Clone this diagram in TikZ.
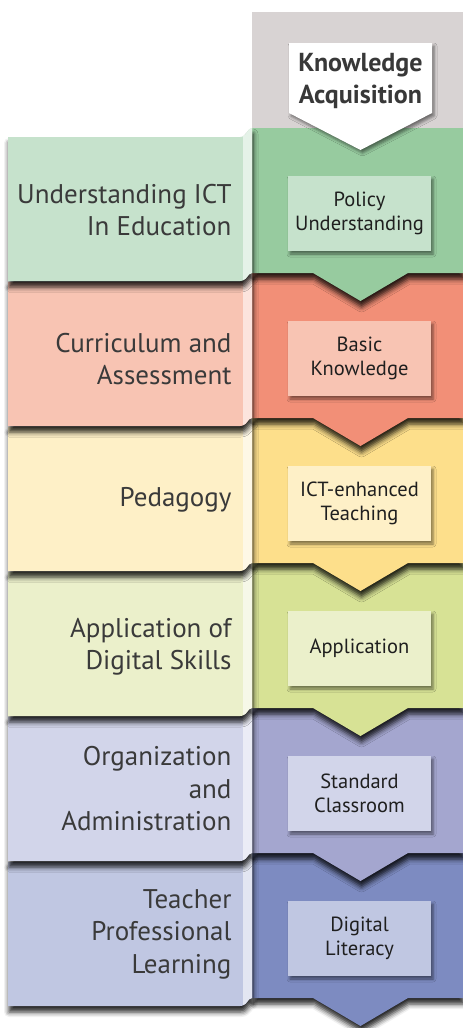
\documentclass[tikz,border=0pt]{standalone}
\usepackage{fontspec}
\setmainfont{PT Sans}
\usetikzlibrary{shadows.blur}
\definecolor{topgray}{HTML}{D8D3D3}
\definecolor{bandA}{HTML}{97CB9F}
\definecolor{tabA}{HTML}{C6E2CC}
\definecolor{bandB}{HTML}{F28F77}
\definecolor{tabB}{HTML}{F8C4B3}
\definecolor{bandC}{HTML}{FDDF8B}
\definecolor{tabC}{HTML}{FEF0C7}
\definecolor{bandD}{HTML}{D7E295}
\definecolor{tabD}{HTML}{EBF0CB}
\definecolor{bandE}{HTML}{A4A6CF}
\definecolor{tabE}{HTML}{D2D5EA}
\definecolor{bandF}{HTML}{7D8BC1}
\definecolor{tabF}{HTML}{C0C7E2}
\definecolor{tabtext}{HTML}{3A3A3A}
\tikzset{
  sheet/.style={blur shadow={shadow xshift=1pt,shadow yshift=-6pt,shadow blur radius=5pt,shadow opacity=85}},
  boxshadow/.style={blur shadow={shadow xshift=2pt,shadow yshift=-3pt,shadow blur radius=3pt,shadow opacity=50}},
  tablabel/.style={anchor=east,align=right,text=tabtext,font=\fontsize{27}{32.5}\selectfont},
  boxlabel/.style={align=center,text=black!88,font=\fontsize{20.5}{24}\selectfont}
}
\begin{document}
\begin{tikzpicture}[x=1pt,y=-1pt]
\useasboundingbox (0,0) rectangle (463,1028);
\fill[topgray] (252,12) rectangle (463,128); %top gray block

% bands, bottom first so each arrow sits on the band below
\fill[bandF,sheet] (252,853)--(463,853)--(463,998)--(408,998)--(360.5,1026)--(313,998)--(252,998)--cycle; %blue
\fill[bandE,sheet] (252,708)--(463,708)--(463,853)--(408,853)--(360.5,881)--(313,853)--(252,853)--cycle; %lavender
\fill[bandD,sheet] (252,563)--(463,563)--(463,708)--(408,708)--(360.5,736)--(313,708)--(252,708)--cycle; %light green
\fill[bandC,sheet] (252,418)--(463,418)--(463,563)--(408,563)--(360.5,591)--(313,563)--(252,563)--cycle; %yellow
\fill[bandB,sheet] (252,273)--(463,273)--(463,418)--(408,418)--(360.5,446)--(313,418)--(252,418)--cycle; %orange
\fill[bandA,sheet] (252,128)--(463,128)--(463,273)--(408,273)--(360.5,301)--(313,273)--(252,273)--cycle; %green

% white arrow on top
\fill[white,boxshadow] (289,43)--(432,43)--(432,113)--(360.5,150)--(289,113)--cycle;
\node[font=\bfseries\fontsize{26}{32}\selectfont,text=black!78,align=center] (ka) at (360.5,81) {Knowledge\\Acquisition};

% boxes inside the bands
\fill[tabA,boxshadow] (288,176) rectangle (431,251);
\node[boxlabel] (policy) at (359.5,213) {Policy\\Understanding};
\fill[tabB,boxshadow] (288,321) rectangle (431,396);
\node[boxlabel] (basic) at (359.5,358) {Basic\\Knowledge};
\fill[tabC,boxshadow] (288,466) rectangle (431,541);
\node[boxlabel] (teaching) at (359.5,503) {ICT-enhanced\\Teaching};
\fill[tabD,boxshadow] (288,611) rectangle (431,686);
\node[boxlabel] (appl) at (359.5,648) {Application};
\fill[tabE,boxshadow] (288,756) rectangle (431,831);
\node[boxlabel] (classroom) at (359.5,793) {Standard\\Classroom};
\fill[tabF,boxshadow] (288,901) rectangle (431,976);
\node[boxlabel] (literacy) at (359.5,938) {Digital\\Literacy};

% tabs on the left, bottom first
\fill[tabF,sheet] (8,862)--(240,862) .. controls (247,862) and (247,853) .. (252,853)--(252,998) .. controls (247,998) and (247,1006) .. (240,1006)--(8,1006)--cycle;
\fill[tabF!45!white] (243,861) .. controls (247,860) and (248,853) .. (252,853)--(252,998) .. controls (248,998) and (247,1005) .. (243,1005)--cycle;
\node[tablabel] (tl) at (235,934) {Teacher\\Professional\\Learning};

\fill[tabE,sheet] (8,717)--(240,717) .. controls (247,717) and (247,708) .. (252,708)--(252,853) .. controls (247,853) and (247,861) .. (240,861)--(8,861)--cycle;
\fill[tabE!45!white] (243,716) .. controls (247,715) and (248,708) .. (252,708)--(252,853) .. controls (248,853) and (247,860) .. (243,860)--cycle;
\node[tablabel] (oa) at (235,789) {Organization\\and\\Administration};

\fill[tabD,sheet] (8,572)--(240,572) .. controls (247,572) and (247,563) .. (252,563)--(252,708) .. controls (247,708) and (247,716) .. (240,716)--(8,716)--cycle;
\fill[tabD!45!white] (243,571) .. controls (247,570) and (248,563) .. (252,563)--(252,708) .. controls (248,708) and (247,715) .. (243,715)--cycle;
\node[tablabel] (ds) at (235,647) {Application of\\Digital Skills};

\fill[tabC,sheet] (8,427)--(240,427) .. controls (247,427) and (247,418) .. (252,418)--(252,563) .. controls (247,563) and (247,571) .. (240,571)--(8,571)--cycle;
\fill[tabC!45!white] (243,426) .. controls (247,425) and (248,418) .. (252,418)--(252,563) .. controls (248,563) and (247,570) .. (243,570)--cycle;
\node[tablabel] (ped) at (235,500) {Pedagogy};

\fill[tabB,sheet] (8,282)--(240,282) .. controls (247,282) and (247,273) .. (252,273)--(252,418) .. controls (247,418) and (247,426) .. (240,426)--(8,426)--cycle;
\fill[tabB!45!white] (243,281) .. controls (247,280) and (248,273) .. (252,273)--(252,418) .. controls (248,418) and (247,425) .. (243,425)--cycle;
\node[tablabel] (ca) at (235,359) {Curriculum and\\Assessment};

\fill[tabA,sheet] (8,137)--(240,137) .. controls (247,137) and (247,128) .. (252,128)--(252,273) .. controls (247,273) and (247,281) .. (240,281)--(8,281)--cycle;
\fill[tabA!45!white] (243,136) .. controls (247,135) and (248,128) .. (252,128)--(252,273) .. controls (248,273) and (247,280) .. (243,280)--cycle;
\node[tablabel] (ict) at (235,210) {Understanding ICT\\In Education};
\end{tikzpicture}
\end{document}
